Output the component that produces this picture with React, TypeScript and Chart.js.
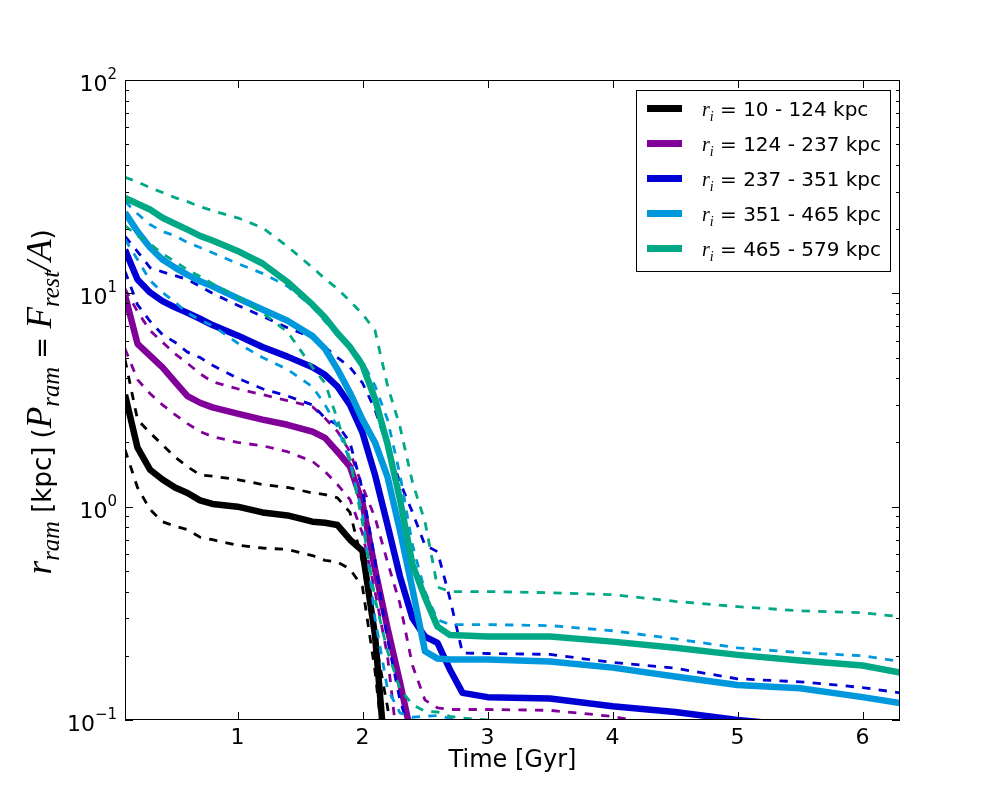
import React, { useEffect, useRef } from "react";
import { Chart, registerables } from "chart.js";

Chart.register(...registerables);

// time grid [Gyr] shared by all curves
const times = [
  0.1, 0.2, 0.3, 0.4, 0.5, 0.6, 0.7, 0.8, 1.0, 1.2, 1.4, 1.6, 1.7, 1.8, 1.9, 2.0,
  2.1, 2.2, 2.3, 2.4, 2.5, 2.6, 2.7, 2.8, 3.0, 3.5, 4.0, 4.5, 5.0, 5.5, 6.0, 6.3,
];

const binLabels = ["10 - 124 kpc", "124 - 237 kpc", "237 - 351 kpc", "351 - 465 kpc", "465 - 579 kpc"];
const binColors = ["#000000", "#82009a", "#0000d4", "#0098dc", "#00a886"];

// r_ram [kpc]: median (solid) and upper / lower (dashed) per bin
const bin1Mid = [3.35, 1.89, 1.49, 1.34, 1.23, 1.16, 1.07, 1.03, 1.0, 0.94, 0.91, 0.85, 0.84, 0.82, 0.7, 0.62, 0.25, 0.05];
const bin1Hi = [4.9, 2.56, 2.22, 1.95, 1.71, 1.54, 1.41, 1.39, 1.34, 1.27, 1.23, 1.16, 1.14, 1.1, 0.94, 0.55, 0.24, 0.115, 0.05];
const bin1Lo = [1.85, 1.23, 0.97, 0.85, 0.81, 0.78, 0.72, 0.7, 0.66, 0.64, 0.63, 0.59, 0.56, 0.55, 0.51, 0.42, 0.17, 0.05];

const bin2Mid = [9.8, 5.8, 5.1, 4.5, 3.85, 3.3, 3.07, 2.92, 2.73, 2.56, 2.42, 2.25, 2.1, 1.81, 1.54, 1.04, 0.51, 0.27, 0.15, 0.08];
const bin2Hi = [10.5, 8.2, 6.7, 5.9, 5.2, 4.7, 4.2, 3.85, 3.57, 3.35, 3.14, 2.94, 2.6, 2.25, 1.81, 1.24, 0.89, 0.55, 0.35, 0.18, 0.124, 0.114, 0.112, 0.112, 0.112, 0.111, 0.104, 0.092];
const bin2Lo = [5.5, 3.94, 3.39, 3.0, 2.7, 2.45, 2.25, 2.13, 2.0, 1.93, 1.81, 1.63, 1.46, 1.27, 1.08, 0.75, 0.4, 0.2, 0.06];

const bin3Mid = [16, 11.6, 10.1, 9.2, 8.6, 8.1, 7.6, 7.1, 6.35, 5.6, 5.05, 4.5, 4.15, 3.65, 3.0, 2.22, 1.41, 0.82, 0.47, 0.3, 0.246, 0.23, 0.172, 0.134, 0.128, 0.126, 0.116, 0.109, 0.1, 0.094, 0.088, 0.085];
const bin3Hi = [18.5, 15.7, 13.2, 12.6, 12.1, 11.6, 10.8, 10.0, 8.8, 7.8, 6.9, 6.2, 5.6, 5.0, 4.5, 3.8, 2.85, 1.9, 1.3, 0.94, 0.66, 0.615, 0.37, 0.206, 0.205, 0.203, 0.186, 0.175, 0.156, 0.151, 0.142, 0.134];
const bin3Lo = [12.7, 8.85, 7.4, 6.4, 5.9, 5.3, 5.0, 4.6, 4.0, 3.57, 3.3, 3.0, 2.6, 2.42, 2.0, 1.2, 0.56, 0.24, 0.124, 0.08];

const bin4Mid = [23.9, 19.5, 16.4, 14.4, 13.2, 12.2, 11.4, 10.8, 9.5, 8.4, 7.44, 6.3, 5.5, 4.4, 3.42, 2.56, 2.0, 1.38, 0.77, 0.41, 0.21, 0.194, 0.192, 0.192, 0.192, 0.188, 0.176, 0.16, 0.146, 0.141, 0.128, 0.12];
const bin4Hi = [27, 23.6, 21, 19.5, 18.6, 17.3, 16.4, 15.5, 13.8, 12.4, 10.8, 8.65, 7.4, 6.35, 5.75, 4.78, 3.69, 2.56, 1.41, 0.66, 0.4, 0.295, 0.28, 0.28, 0.28, 0.277, 0.262, 0.24, 0.218, 0.207, 0.2, 0.188];
const bin4Lo = [17.9, 14.4, 11.5, 10.1, 9.1, 8.1, 7.5, 7.05, 5.85, 5.0, 4.4, 3.65, 3.0, 2.37, 1.63, 0.92, 0.3, 0.14, 0.108, 0.103, 0.104, 0.105, 0.102, 0.098, 0.095];

const bin5Mid = [28, 26.3, 24.7, 22.6, 21.2, 19.9, 18.6, 17.7, 15.8, 13.8, 11.3, 8.85, 7.7, 6.5, 5.6, 4.6, 3.2, 1.97, 1.08, 0.535, 0.375, 0.274, 0.25, 0.249, 0.246, 0.246, 0.233, 0.218, 0.202, 0.19, 0.18, 0.167];
const bin5Hi = [35, 33.3, 31.3, 29.7, 28.1, 26.9, 25.5, 24.4, 22.6, 20.3, 16.6, 13.2, 11.7, 10.5, 9.2, 8.0, 6.7, 3.7, 2.37, 1.3, 0.85, 0.42, 0.4, 0.4, 0.4, 0.395, 0.387, 0.36, 0.34, 0.325, 0.318, 0.305];
const bin5Lo = [20.8, 18.6, 17.1, 15.3, 14.1, 12.9, 12, 11.1, 9.6, 8.1, 6.6, 4.5, 3.8, 2.56, 1.66, 0.84, 0.37, 0.21, 0.14, 0.118, 0.11, 0.109, 0.104, 0.102, 0.1, 0.098];

const xTicks = [1, 2, 3, 4, 5, 6];
const yExponents = [-1, 0, 1, 2];

const bins = [
  [bin1Mid, bin1Hi, bin1Lo],
  [bin2Mid, bin2Hi, bin2Lo],
  [bin3Mid, bin3Hi, bin3Lo],
  [bin4Mid, bin4Hi, bin4Lo],
  [bin5Mid, bin5Hi, bin5Lo],
];

const SANS = '"DejaVu Sans"';
const MATH = '"Liberation Serif"';

type Piece = { text: string; font: string; dy?: number };

function richWidth(ctx: CanvasRenderingContext2D, pieces: Piece[]) {
  let w = 0;
  for (const p of pieces) {
    ctx.font = p.font;
    w += ctx.measureText(p.text).width;
  }
  return w;
}

function drawRich(ctx: CanvasRenderingContext2D, pieces: Piece[], x: number, y: number) {
  let cx = x;
  for (const p of pieces) {
    ctx.font = p.font;
    ctx.fillText(p.text, cx, y + (p.dy || 0));
    cx += ctx.measureText(p.text).width;
  }
}

// s: size of the plain text, m: size of the math italics
function yTitlePieces(s: number, m: number): Piece[] {
  const mf = `italic ${m.toFixed(1)}px ${MATH}`;
  const sf = `italic ${(m * 0.7).toFixed(1)}px ${MATH}`;
  const nf = `${s}px ${SANS}`;
  const sub = m * 0.22;
  return [
    { text: "r", font: mf },
    { text: "ram", font: sf, dy: sub },
    { text: " [kpc] (", font: nf },
    { text: "P", font: mf },
    { text: "ram", font: sf, dy: sub },
    { text: " = ", font: nf },
    { text: "F", font: mf },
    { text: "rest", font: sf, dy: sub },
    { text: "/A", font: mf },
    { text: ")", font: nf },
  ];
}

const decorPlugin = {
  id: "decor",
  afterDraw(chart: any) {
    const { ctx, chartArea: a, scales } = chart;
    const xs = scales.x;
    const ys = scales.y;
    ctx.save();
    ctx.strokeStyle = "#000";
    ctx.fillStyle = "#000";
    ctx.lineWidth = 1;
    ctx.setLineDash([]);

    // inward ticks
    ctx.beginPath();
    for (const t of xTicks) {
      const px = Math.round(xs.getPixelForValue(t)) + 0.5;
      ctx.moveTo(px, a.bottom);
      ctx.lineTo(px, a.bottom - 8);
      ctx.moveTo(px, a.top);
      ctx.lineTo(px, a.top + 8);
    }
    for (const e of yExponents) {
      for (let m = 1; m <= 9; m++) {
        const v = m * Math.pow(10, e);
        if (v > 100.0001) break;
        const len = m === 1 ? 8 : 4;
        const py = Math.round(ys.getPixelForValue(v)) + 0.5;
        ctx.moveTo(a.left, py);
        ctx.lineTo(a.left + len, py);
        ctx.moveTo(a.right, py);
        ctx.lineTo(a.right - len, py);
      }
    }
    ctx.stroke();
    ctx.strokeRect(a.left + 0.5, a.top + 0.5, a.right - a.left - 1, a.bottom - a.top - 1);

    // x tick labels
    ctx.textAlign = "center";
    ctx.textBaseline = "alphabetic";
    ctx.font = `22px ${SANS}`;
    for (const t of xTicks) {
      ctx.fillText(String(t), xs.getPixelForValue(t), a.bottom + 24);
    }

    // y tick labels 10^e
    ctx.textAlign = "left";
    for (const e of yExponents) {
      const py = ys.getPixelForValue(Math.pow(10, e));
      const exp = e < 0 ? "\u2212" + String(-e) : String(e);
      const pieces: Piece[] = [
        { text: "10", font: `22px ${SANS}`, dy: 11 },
        { text: exp, font: `15px ${SANS}`, dy: -1 },
      ];
      const w = richWidth(ctx, pieces);
      drawRich(ctx, pieces, 117 - w, py);
    }

    // x title
    ctx.textAlign = "center";
    ctx.font = `24px ${SANS}`;
    ctx.fillText("Time [Gyr]", (a.left + a.right) / 2, 767);

    // y title: plain text at 26px, math italics sized so the whole spans ~345px
    ctx.textAlign = "left";
    const plain = 26;
    const wPlain = richWidth(ctx, yTitlePieces(plain, 1e-3));
    const wMath26 = richWidth(ctx, yTitlePieces(plain, 26)) - wPlain;
    const mathSize = Math.max(24, Math.min(36, (26 * (345 - wPlain)) / wMath26));
    const title = yTitlePieces(plain, mathSize);
    const tw = richWidth(ctx, title);
    ctx.save();
    ctx.translate(51, 402);
    ctx.rotate(-Math.PI / 2);
    drawRich(ctx, title, -tw / 2, 0);
    ctx.restore();

    // legend
    const lx = 636;
    const ly = 90;
    ctx.fillStyle = "#fff";
    ctx.fillRect(lx, ly, 254, 181);
    ctx.strokeStyle = "#000";
    ctx.lineWidth = 1;
    ctx.strokeRect(lx + 0.5, ly + 0.5, 254, 181);
    binLabels.forEach((label, i) => {
      const ry = 108.5 + 35 * i;
      ctx.strokeStyle = binColors[i];
      ctx.lineWidth = 7;
      ctx.lineCap = "butt";
      ctx.beginPath();
      ctx.moveTo(647, ry);
      ctx.lineTo(682, ry);
      ctx.stroke();
      ctx.fillStyle = "#000";
      drawRich(
        ctx,
        [
          { text: "r", font: `italic 20px ${MATH}` },
          { text: "i", font: `italic 14px ${MATH}`, dy: 5 },
          { text: " = " + label, font: `20px ${SANS}` },
        ],
        702,
        ry + 7.5
      );
    });
    ctx.restore();
  },
};

const App: React.FC = () => {
  const canvasRef = useRef<HTMLCanvasElement>(null);
  const chartInstance = useRef<Chart | null>(null);

  useEffect(() => {
    if (!canvasRef.current) return;
    const ctx = canvasRef.current.getContext("2d");
    if (!ctx) return;

    if (chartInstance.current) {
      chartInstance.current.destroy();
    }

    const datasets: any[] = [];
    bins.forEach((series, k) => {
      series.forEach((vals, j) => {
        const solid = j === 0;
        datasets.push({
          label: solid ? binLabels[k] : binLabels[k] + (j === 1 ? " hi" : " lo"),
          data: vals.map((v, i) => ({ x: times[i], y: v })),
          borderColor: binColors[k],
          borderWidth: solid ? 6.5 : 2.8,
          borderDash: solid ? [] : [8.3, 8.3],
          borderJoinStyle: "round",
          borderCapStyle: "butt",
          pointRadius: 0,
          tension: 0,
          fill: false,
          clip: 0,
          order: 100 - (k * 3 + j),
        });
      });
    });

    chartInstance.current = new Chart(ctx, {
      type: "line",
      data: { datasets },
      options: {
        animation: false,
        responsive: true,
        maintainAspectRatio: false,
        events: [],
        layout: { padding: { left: 125, right: 100, top: 80, bottom: 80 } },
        scales: {
          x: { type: "linear", min: 0.1, max: 6.3, display: false },
          y: { type: "logarithmic", min: 0.1, max: 100, display: false },
        },
        plugins: {
          legend: { display: false },
          tooltip: { enabled: false },
        },
      },
      plugins: [decorPlugin],
    });

    return () => {
      if (chartInstance.current) {
        chartInstance.current.destroy();
        chartInstance.current = null;
      }
    };
  }, []);

  return (
    <div style={{ position: "fixed", left: 0, top: 0, width: 1000, height: 800, background: "#fff" }}>
      <canvas ref={canvasRef}></canvas>
    </div>
  );
};

export default App;
